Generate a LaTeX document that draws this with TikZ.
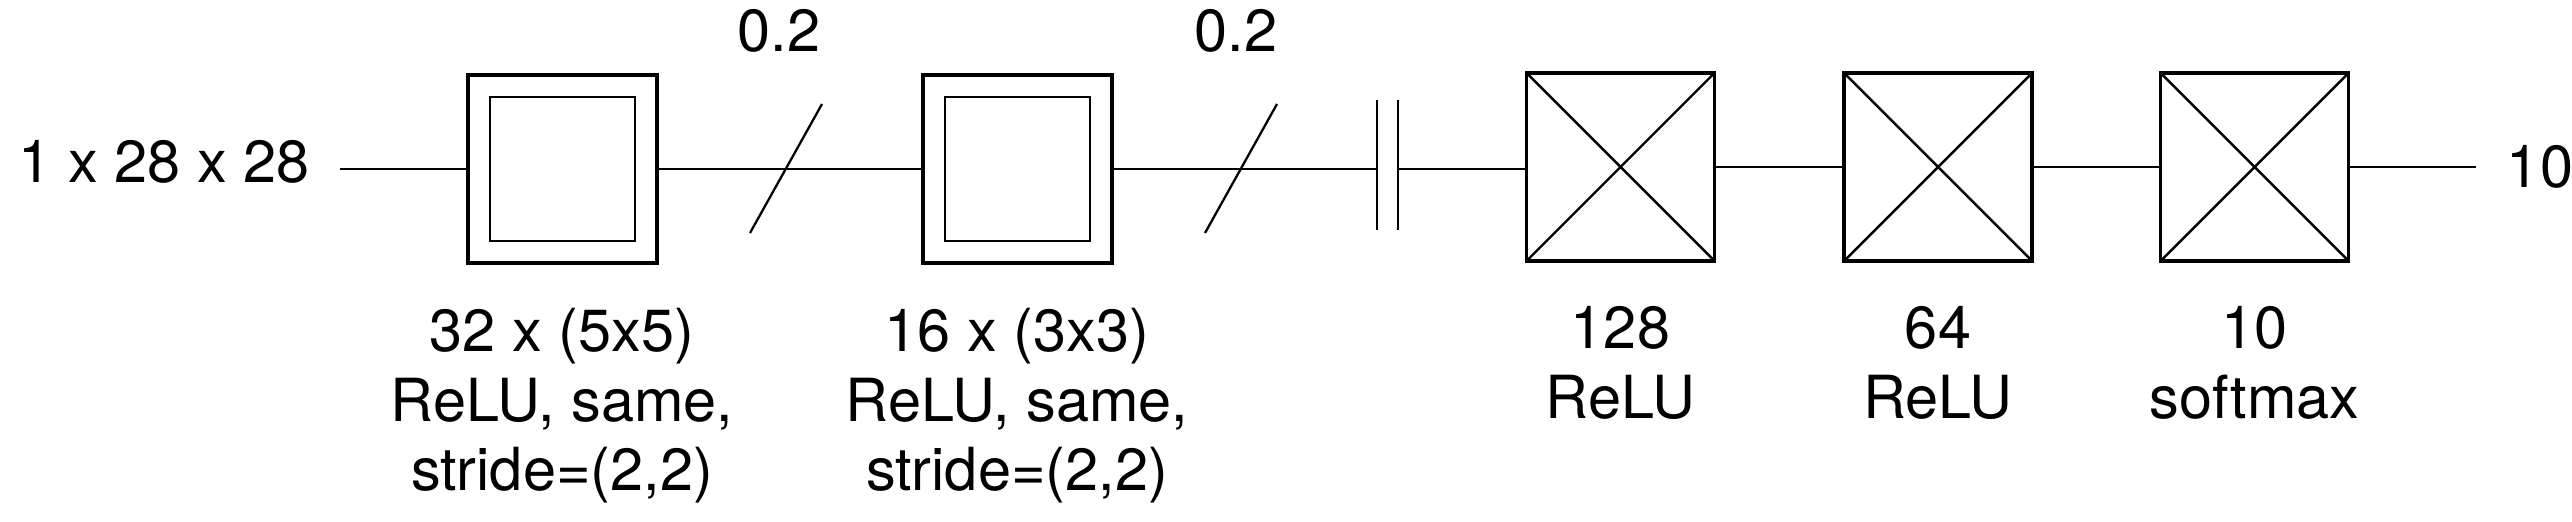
\documentclass[tikz,border=0pt]{standalone}
\usepackage{fontspec}
\setmainfont{TeX Gyre Heros}
\usepackage{tikz}
\usetikzlibrary{calc}
\tikzset{
  every node/.style={font=\fontsize{16.9}{19.9}\selectfont},
  % conv layer: box with an inner box; dense layer: box with a cross
  conv/.style={draw, line width=0.9pt, minimum width=1.89cm, minimum height=1.88cm, inner sep=0pt,
               path picture={\draw[line width=0.8pt] ([shift={(2.2mm,2.2mm)}]path picture bounding box.south west)
                 rectangle ([shift={(-2.2mm,-2.2mm)}]path picture bounding box.north east);}},
  dense/.style={draw, line width=0.9pt, minimum width=1.88cm, minimum height=1.88cm, inner sep=0pt,
               path picture={\draw[line width=0.7pt] (path picture bounding box.south west) -- (path picture bounding box.north east)
                 (path picture bounding box.north west) -- (path picture bounding box.south east);}},
  wire/.style={line width=0.8pt},
  slash/.style={line width=0.65pt},
  bar/.style={line width=0.8pt},
  lbl/.style={align=center, inner sep=0pt, anchor=north},
}
\begin{document}
\begin{tikzpicture}[x=0.01cm, y=-0.01cm]
  \useasboundingbox (0,0) rectangle (2572,522);

  % ---- layers ----
  \node[anchor=base, inner sep=0pt] (inp) at (164,183) {1 x 28 x 28};
  \coordinate (inend) at (340,169);
  \node[conv] (convA) at (562.5,169) {};
  \node[conv] (convB) at (1017.5,169) {};
  \coordinate (flatL) at (1377,169);
  \coordinate (flatR) at (1398,169);
  \node[dense] (fcA) at (1620.5,167) {};
  \node[dense] (fcB) at (1938,167) {};
  \node[dense] (fcC) at (2254.5,167) {};
  \coordinate (outend) at (2476,167);
  \node[anchor=base, inner sep=0pt] (outp) at (2540,188) {10};

  % ---- connectors ----
  \draw[wire] (inend) -- (convA);
  \draw[wire] (convA) -- (convB);
  \draw[wire] (convB) -- (flatL);
  \draw[wire] (flatR) -- (flatR -| fcA.west);
  \draw[wire] (fcA) -- (fcB);
  \draw[wire] (fcB) -- (fcC);
  \draw[wire] (fcC) -- (outend);

  % dropout marks
  \coordinate (dropA) at (786,169);
  \coordinate (dropB) at (1241,169);
  \draw[slash] ([shift={(-36,64)}]dropA) -- ([shift={(36,-65)}]dropA);
  \draw[slash] ([shift={(-36,64)}]dropB) -- ([shift={(36,-65)}]dropB);
  \node[anchor=base, inner sep=0pt] (rateA) at (779,52) {0.2};
  \node[anchor=base, inner sep=0pt] (rateB) at (1236,52) {0.2};

  % flatten
  \draw[bar] (1377,100) -- (1377,230);
  \draw[bar] (1398,100) -- (1398,230);

  % ---- labels ----
  \node[lbl] (labA) at (562,307) {32 x (5x5)\\ReLU, same,\\stride=(2,2)};
  \node[lbl] (labB) at (1017,307) {16 x (3x3)\\ReLU, same,\\stride=(2,2)};
  \node[lbl] (labC) at (1620.5,306) {128\\ReLU};
  \node[lbl] (labD) at (1938,306) {64\\ReLU};
  \node[lbl] (labE) at (2254.5,306) {10\\softmax};
\end{tikzpicture}
\end{document}
